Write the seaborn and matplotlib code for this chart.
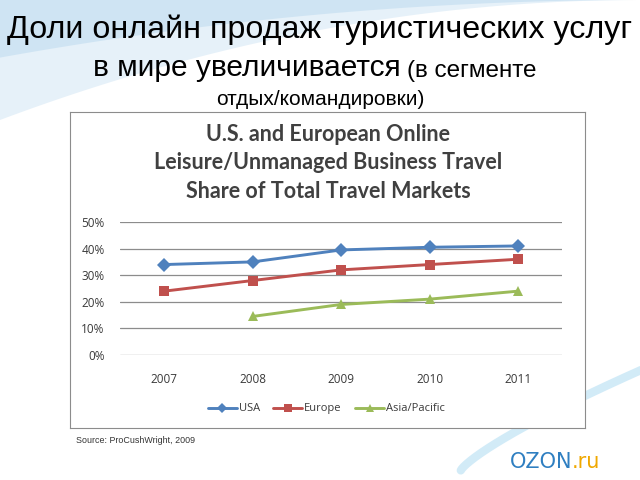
import matplotlib.pyplot as plt
import seaborn as sns
import numpy as np
import pandas as pd

years = [2007, 2008, 2009, 2010, 2011]
usa = [0.34, 0.35, 0.395, 0.405, 0.41]
europe = [0.24, 0.28, 0.32, 0.34, 0.36]
asia = [np.nan, 0.145, 0.19, 0.21, 0.24]
series_names = ['USA', 'Europe', 'Asia/Pacific']
y_ticks = [0, 0.1, 0.2, 0.3, 0.4, 0.5]

df = pd.DataFrame({
    'year': years * 3,
    'share': usa + europe + asia,
    'region': [n for n in series_names for _ in years],
}).dropna()

sns.set_style('white')
plt.rcParams['font.family'] = ['Liberation Sans', 'DejaVu Sans']

fig = plt.figure(figsize=(6.4, 4.8), dpi=100)
fig.patch.set_facecolor('white')

# светлый фон слайда с голубыми дугами
bg = fig.add_axes([0, 0, 1, 1], zorder=-10)
bg.set_xlim(0, 1)
bg.set_ylim(0, 1)
bg.axis('off')
t = np.linspace(0, 1, 200)
bg.fill_between(t, 1 - 0.25 * (1 - t) ** 2, 1, color='#d6e8f5', alpha=0.6, lw=0)
bg.fill_between(t, 1 - 0.12 * (1 - t) ** 2, 1, color='#b9d8ee', alpha=0.5, lw=0)
bg.plot(0.72 + 0.3 * t, 0.02 + 0.22 * t ** 0.8, color='#bfe3f5', lw=6, alpha=0.7)

# рамка диаграммы
frame = fig.add_axes([0.109, 0.108, 0.805, 0.658], zorder=1)
frame.set_xticks([])
frame.set_yticks([])
frame.set_facecolor('white')
for s in frame.spines.values():
    s.set_color('#8c8c8c')
    s.set_linewidth(0.8)

ax = fig.add_axes([0.1875, 0.2604, 0.691, 0.2771], zorder=2)
ax.patch.set_alpha(0)
palette = {'USA': '#4F81BD', 'Europe': '#C0504D', 'Asia/Pacific': '#9BBB59'}
markers = {'USA': 'D', 'Europe': 's', 'Asia/Pacific': '^'}
sns.lineplot(data=df, x='year', y='share', hue='region', style='region',
             hue_order=series_names, style_order=series_names,
             palette=palette, markers=markers, dashes=False,
             markersize=7, markeredgewidth=0, linewidth=2.1, ax=ax, zorder=3)

ax.set_xlim(years[0] - 0.5, years[-1] + 0.5)
ax.set_ylim(0, 0.5)
ax.set_yticks(y_ticks)
ax.set_yticklabels([f'{int(v * 100)}%' for v in y_ticks])
ax.set_xticks(years)
ax.set_xticklabels([str(y) for y in years])
ax.grid(axis='y', color='#8c8c8c', lw=0.9)
ax.set_axisbelow(True)
for s in ax.spines.values():
    s.set_visible(False)
ax.tick_params(length=0, labelsize=8.5, labelcolor='#3a3a3a')
ax.tick_params(axis='x', pad=13)
ax.tick_params(axis='y', pad=11)
for lbl in ax.get_yticklabels() + ax.get_xticklabels():
    lbl.set_family(['Open Sans', 'DejaVu Sans'])
ax.set_xlabel('')
ax.set_ylabel('')

handles, labels = ax.get_legend_handles_labels()
for h in handles:
    h.set_markersize(5.5)
ax.legend(handles, labels, loc='center', bbox_to_anchor=(0.51, 0.148),
          bbox_transform=fig.transFigure, ncol=3, frameon=False,
          handlelength=2.6, columnspacing=1.2, handletextpad=0.2,
          prop={'family': ['Open Sans', 'DejaVu Sans'], 'size': 8})
for txt in ax.get_legend().get_texts():
    txt.set_color('#3a3a3a')

# заголовок диаграммы
fig.text(0.513, 0.661, 'U.S. and European Online\nLeisure/Unmanaged Business Travel\nShare of Total Travel Markets',
         ha='center', va='center', fontsize=15.5, fontweight='bold', color='#404040',
         family=['Lato', 'DejaVu Sans'], linespacing=1.45, zorder=5)

# заголовок слайда
fig.text(0.5, 0.937, 'Доли онлайн продаж туристических услуг', ha='center', va='center',
         fontsize=23.2, color='black')
fig.text(0.626, 0.858, 'в мире увеличивается', ha='right', va='center', fontsize=21.5, color='black')
fig.text(0.636, 0.853, '(в сегменте', ha='left', va='center', fontsize=17.5, color='black')
fig.text(0.5, 0.792, 'отдых/командировки)', ha='center', va='center', fontsize=15, color='black')

fig.text(0.118, 0.083, 'Source: ProCushWright, 2009', ha='left', va='center', fontsize=6.4, color='#333333')

fig.text(0.894, 0.037, 'OZON', ha='right', va='center', fontsize=15, color='#2f7fc1', family=['DejaVu Sans'])
fig.text(0.894, 0.037, '.ru', ha='left', va='center', fontsize=15, color='#f0a800', family=['DejaVu Sans'])

fig.savefig('out.png', dpi=100, facecolor=fig.get_facecolor())
